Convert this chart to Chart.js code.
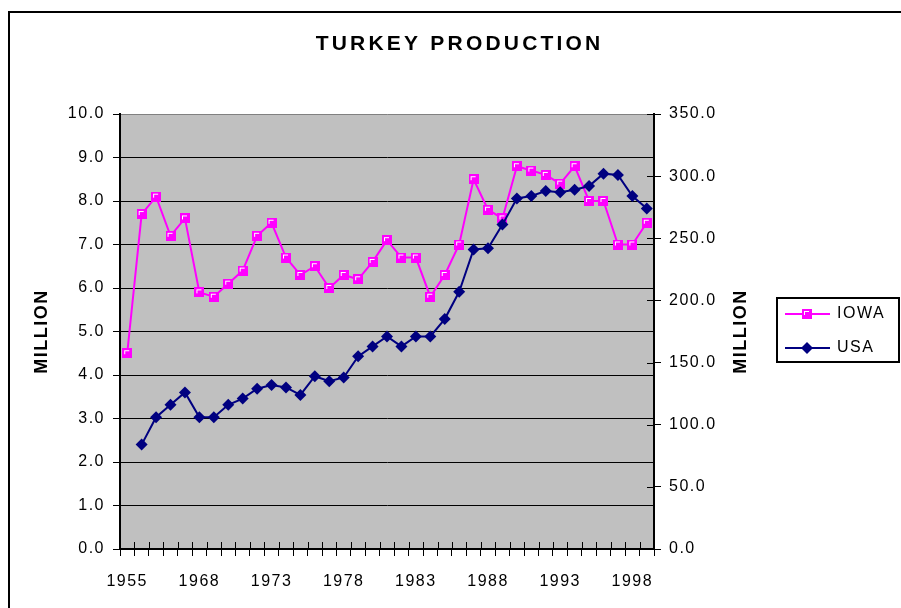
<!DOCTYPE html>
<html>
<head>
<meta charset="utf-8">
<script src="https://cdn.jsdelivr.net/npm/chart.js@4.4.1/dist/chart.umd.min.js"></script>
<style>
  body { margin: 0; background: #fff; overflow: hidden; }
  #frame { position: absolute; left: 8px; top: 11px; width: 2000px; height: 2000px;
           border-left: 2px solid #000; border-top: 2px solid #000; }
  #wrap { position: absolute; left: 0; top: 0; width: 901px; height: 608px; }
</style>
</head>
<body>
<div id="frame"></div>
<div id="wrap"><canvas id="turkeyChart" width="901" height="608"></canvas></div>
<script>
// categories (1955, then 1964-1999)
const years = ['1955', '1964', '1965', '1966', '1967', '1968', '1969', '1970', '1971', '1972',
  '1973', '1974', '1975', '1976', '1977', '1978', '1979', '1980', '1981', '1982',
  '1983', '1984', '1985', '1986', '1987', '1988', '1989', '1990', '1991', '1992',
  '1993', '1994', '1995', '1996', '1997', '1998', '1999'];
const shownYears = ['1955', '1968', '1973', '1978', '1983', '1988', '1993', '1998'];

// million birds, left axis
const iowa = [4.5, 7.7, 8.1, 7.2, 7.6, 5.9, 5.8, 6.1, 6.4, 7.2, 7.5, 6.7, 6.3, 6.5, 6.0, 6.3,
  6.2, 6.6, 7.1, 6.7, 6.7, 5.8, 6.3, 7.0, 8.5, 7.8, 7.6, 8.8, 8.7, 8.6, 8.4, 8.8, 8.0, 8.0,
  7.0, 7.0, 7.5];
// million birds, right axis
const usa = [null, 84, 106, 116, 126, 106, 106, 116, 121, 129, 132, 130, 124, 139, 135, 138,
  155, 163, 171, 163, 171, 171, 185, 207, 241, 242, 261, 282, 284, 288, 287, 289, 292, 302,
  301, 284, 274];

const leftTicks = { min: 0, max: 10, step: 1 };
const rightTicks = { min: 0, max: 350, step: 50 };

const MAGENTA = '#ff00ff';
const NAVY = '#000080';
const FONT = "'Liberation Sans', Arial, sans-serif";

// little magenta square marker with the white corner highlight
function makeSquareMarker() {
  const c = document.createElement('canvas');
  c.width = 10; c.height = 10;
  const g = c.getContext('2d');
  g.fillStyle = MAGENTA;
  g.fillRect(0, 0, 10, 10);
  g.fillStyle = '#ffffff';
  g.fillRect(2, 2, 5, 1);
  g.fillRect(2, 2, 1, 4);
  return c;
}
const squareMarker = makeSquareMarker();

const excelLook = {
  id: 'excelLook',
  beforeUpdate(chart) { chart.ctx.letterSpacing = '1.5px'; },
  beforeDraw(chart) {
    const { ctx, chartArea: a } = chart;
    ctx.letterSpacing = '1.5px';
    ctx.save();
    ctx.fillStyle = '#c0c0c0';
    ctx.fillRect(a.left, a.top, a.right - a.left, a.bottom - a.top);
    ctx.restore();
  },
  afterDraw(chart) {
    const { ctx, chartArea: a } = chart;
    const xs = chart.scales.x, yr = chart.scales.y1;
    ctx.save();
    // inward tick marks on the x axis and the right axis
    ctx.strokeStyle = '#000';
    ctx.lineWidth = 1;
    const half = (xs.getPixelForValue(1) - xs.getPixelForValue(0)) / 2;
    ctx.beginPath();
    for (let i = 0; i <= years.length; i++) {
      const x = Math.round(xs.getPixelForValue(i) - half) + 0.5;
      ctx.moveTo(x, a.bottom);
      ctx.lineTo(x, a.bottom - 7);
    }
    yr.ticks.forEach(t => {
      const y = Math.round(yr.getPixelForValue(t.value)) + 0.5;
      ctx.moveTo(a.right, y);
      ctx.lineTo(a.right - 7, y);
    });
    ctx.stroke();

    // title
    ctx.fillStyle = '#000';
    ctx.textBaseline = 'middle';
    ctx.textAlign = 'left';
    ctx.font = 'bold 21px ' + FONT;
    ctx.letterSpacing = '3.2px';
    const title = 'TURKEY PRODUCTION';
    const tw = ctx.measureText(title).width - 3.2;
    ctx.fillText(title, 458 - tw / 2, 44);

    // axis titles
    ctx.font = 'bold 18px ' + FONT;
    ctx.letterSpacing = '1.5px';
    ctx.textAlign = 'center';
    [[42, 'MILLION'], [741, 'MILLION']].forEach(([x, s]) => {
      ctx.save();
      ctx.translate(x, (a.top + a.bottom) / 2);
      ctx.rotate(-Math.PI / 2);
      ctx.fillText(s, 0, 0);
      ctx.restore();
    });

    // legend
    const lx = 777, ly = 298, lw = 122, lh = 64;
    ctx.fillStyle = '#fff';
    ctx.fillRect(lx, ly, lw, lh);
    ctx.strokeStyle = '#000';
    ctx.lineWidth = 2;
    ctx.strokeRect(lx, ly, lw, lh);
    const rows = [
      { label: 'IOWA', color: MAGENTA, y: ly + 16 },
      { label: 'USA', color: NAVY, y: ly + 50 }
    ];
    rows.forEach((r, i) => {
      ctx.strokeStyle = r.color;
      ctx.lineWidth = 2;
      ctx.beginPath();
      ctx.moveTo(lx + 8, r.y);
      ctx.lineTo(lx + 53, r.y);
      ctx.stroke();
      if (i === 0) {
        ctx.drawImage(squareMarker, lx + 25, r.y - 5);
      } else {
        ctx.fillStyle = NAVY;
        ctx.beginPath();
        ctx.moveTo(lx + 30, r.y - 6);
        ctx.lineTo(lx + 36, r.y);
        ctx.lineTo(lx + 30, r.y + 6);
        ctx.lineTo(lx + 24, r.y);
        ctx.closePath();
        ctx.fill();
      }
      ctx.fillStyle = '#000';
      ctx.font = '16px ' + FONT;
      ctx.textAlign = 'left';
      ctx.fillText(r.label, lx + 60, r.y);
    });
    ctx.restore();
  }
};

new Chart(document.getElementById('turkeyChart'), {
  type: 'line',
  data: {
    labels: years,
    datasets: [
      {
        label: 'IOWA',
        data: iowa,
        yAxisID: 'y',
        borderColor: MAGENTA,
        backgroundColor: MAGENTA,
        borderWidth: 2,
        pointStyle: squareMarker,
        pointRadius: 5,
        tension: 0,
        order: 1
      },
      {
        label: 'USA',
        data: usa,
        yAxisID: 'y1',
        borderColor: NAVY,
        backgroundColor: NAVY,
        borderWidth: 2,
        pointStyle: 'rectRot',
        pointRadius: 6,
        pointBorderWidth: 0,
        tension: 0,
        order: 0
      }
    ]
  },
  options: {
    responsive: false,
    animation: false,
    layout: { padding: { top: 114, left: 0, right: 0, bottom: 0 } },
    plugins: {
      legend: { display: false },
      title: { display: false },
      tooltip: { enabled: false }
    },
    scales: {
      x: {
        offset: true,
        grid: { display: true, offset: true, drawOnChartArea: false, tickLength: 7, color: '#000', lineWidth: 1 },
        border: { display: true, color: '#000', width: 2 },
        ticks: {
          autoSkip: false,
          maxRotation: 0,
          padding: 16,
          color: '#000',
          font: { family: FONT, size: 16 },
          callback: function (v, i) { return shownYears.includes(years[i]) ? years[i] : ''; }
        },
        afterFit(scale) { scale.height = 59; }
      },
      y: {
        position: 'left',
        min: leftTicks.min,
        max: leftTicks.max,
        grid: {
          color: ctx => ctx.tick && ctx.tick.value === leftTicks.max ? '#808080' : '#000',
          tickColor: '#000',
          lineWidth: 1,
          tickLength: 7
        },
        border: { display: true, color: '#000', width: 2 },
        ticks: {
          stepSize: leftTicks.step,
          padding: 8,
          color: '#000',
          font: { family: FONT, size: 16 },
          callback: v => v.toFixed(1)
        },
        afterFit(scale) { scale.width = 120; }
      },
      y1: {
        position: 'right',
        min: rightTicks.min,
        max: rightTicks.max,
        grid: { drawOnChartArea: false, tickColor: '#000', lineWidth: 1, tickLength: 7 },
        border: { display: true, color: '#000', width: 2 },
        ticks: {
          stepSize: rightTicks.step,
          padding: 8,
          color: '#000',
          font: { family: FONT, size: 16 },
          callback: v => v.toFixed(1)
        },
        afterFit(scale) { scale.width = 247; }
      }
    }
  },
  plugins: [excelLook]
});
</script>
</body>
</html>
